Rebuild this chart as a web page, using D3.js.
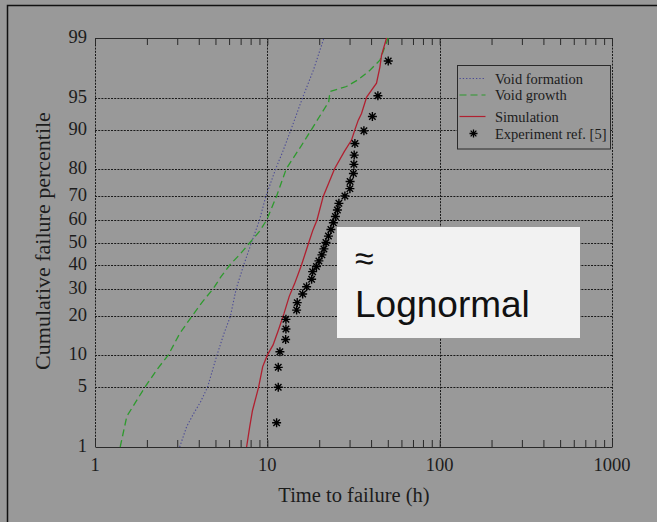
<!DOCTYPE html>
<html>
<head>
<meta charset="utf-8">
<script src="https://cdn.jsdelivr.net/npm/d3@7"></script>
<style>
  body { margin: 0; background: #999999; }
  svg text { font-family: "Liberation Serif", "Times New Roman", serif; fill: #1c1c1c; }
  svg text.note { font-family: "Liberation Sans", Arial, sans-serif; fill: #111; }
</style>
</head>
<body>
<div id="chart"></div>
<script>
// values: [time (h), cumulative percentile]
const xTicks = [1, 10, 100, 1000];
const yTicks = [1, 5, 10, 20, 30, 40, 50, 60, 70, 80, 90, 95, 99];

const voidFormation = [
  [3.1, 1], [3.4, 1.8], [3.7, 2.5], [4.1, 3.5], [4.5, 5], [5.1, 10], [5.6, 15], [6.1, 20],
  [6.6, 30], [7.3, 40], [8.1, 50], [9.0, 60], [9.8, 70], [11.2, 80],
  [12.3, 85], [13.7, 90], [16.0, 95], [18.5, 97.5], [21.3, 99]
];
const voidGrowth = [
  [1.40, 1], [1.53, 2.4], [1.95, 5], [2.3, 7.5], [2.66, 10], [3.1, 15],
  [3.64, 20], [4.2, 25], [4.86, 30], [5.4, 35], [6.07, 40], [7.0, 45],
  [7.93, 50], [9.0, 55], [9.9, 60], [11.3, 70], [12.9, 80], [15.5, 86],
  [18.0, 90], [20.6, 92.9], [22.7, 94.5], [23.1, 95.7], [28.8, 96.2],
  [33.7, 96.8], [39.4, 97.5], [45.0, 98.1], [50.3, 99]
];
const simulation = [
  [7.58, 1], [7.9, 1.8], [8.2, 2.8], [8.9, 5], [9.4, 7.9], [10.0, 10],
  [10.8, 12.2], [11.6, 16], [12.5, 21], [13.4, 27], [14.4, 32], [15.4, 37.7],
  [15.8, 40], [17.4, 50], [18.4, 55.7], [19.4, 60], [21.1, 70], [24.6, 80],
  [28.0, 85], [30.8, 87.8], [32.2, 90], [33.7, 91.8], [35.2, 92.9],
  [37.7, 95.1], [43.0, 96.5], [45.0, 97.7], [46.0, 98.35], [49.2, 99]
];
const experiment = [
  [11.32, 2.02], [11.57, 4.98], [11.57, 7.78], [11.83, 10.7], [12.77, 13.5],
  [12.82, 16.25], [12.82, 19.1], [14.79, 22.1], [14.91, 24.7], [16.03, 27.9],
  [16.9, 30.75], [18.07, 33.8], [18.32, 37.0], [19.27, 39.2], [19.92, 41.7],
  [20.74, 44.4], [21.3, 47.1], [21.88, 50.0], [22.62, 52.9], [23.38, 55.9],
  [24.17, 58.9], [24.83, 61.6], [25.5, 64.4], [26.02, 67.2], [28.19, 70.2],
  [30.14, 73.0], [30.22, 75.6], [31.58, 78.4], [31.79, 81.3], [31.92, 84.0],
  [32.22, 87.0], [36.34, 89.8], [40.7, 92.4], [43.8, 95.25], [50.3, 98.05]
];
const legendLabels = ["Void formation", "Void growth", "Simulation", "Experiment ref. [5]"];

// inverse normal cdf (Acklam) for the probability axis
function probit(p) {
  const a = [-3.969683028665376e+01, 2.209460984245205e+02, -2.759285104469687e+02, 1.383577518672690e+02, -3.066479806614716e+01, 2.506628277459239e+00];
  const b = [-5.447609879822406e+01, 1.615858368580409e+02, -1.556989798598866e+02, 6.680131188771972e+01, -1.328068155288572e+01];
  const c = [-7.784894002430293e-03, -3.223964580411365e-01, -2.400758277161838e+00, -2.549732539343734e+00, 4.374664141464968e+00, 2.938163982698783e+00];
  const d = [7.784695709041462e-03, 3.224671290700398e-01, 2.445134137142996e+00, 3.754408661907416e+00];
  const pl = 0.02425;
  let q, r;
  if (p < pl) {
    q = Math.sqrt(-2 * Math.log(p));
    return (((((c[0]*q+c[1])*q+c[2])*q+c[3])*q+c[4])*q+c[5]) / ((((d[0]*q+d[1])*q+d[2])*q+d[3])*q+1);
  }
  if (p > 1 - pl) {
    q = Math.sqrt(-2 * Math.log(1 - p));
    return -(((((c[0]*q+c[1])*q+c[2])*q+c[3])*q+c[4])*q+c[5]) / ((((d[0]*q+d[1])*q+d[2])*q+d[3])*q+1);
  }
  q = p - 0.5; r = q * q;
  return (((((a[0]*r+a[1])*r+a[2])*r+a[3])*r+a[4])*r+a[5])*q / (((((b[0]*r+b[1])*r+b[2])*r+b[3])*r+b[4])*r+1);
}

const width = 657, height = 522;
const plotLeft = 95, plotRight = 612, plotTop = 38, plotBottom = 447;

const svg = d3.select("#chart").append("svg")
  .attr("width", width)
  .attr("height", height);

svg.append("rect").attr("width", width).attr("height", height).attr("fill", "#999999");
// outer frame of the scanned figure
svg.append("rect")
  .attr("x", 7.5).attr("y", 5.5).attr("width", 700).attr("height", 600)
  .attr("fill", "none").attr("stroke", "#111").attr("stroke-width", 1.5);

const xscale = d3.scaleLog().domain([1, 1000]).range([plotLeft, plotRight]);
const zscale = d3.scaleLinear().domain([probit(0.01), probit(0.99)]).range([plotBottom, plotTop]);
const yscale = (p) => zscale(probit(p / 100));

// grid
svg.append("g").selectAll("line")
  .data(yTicks.filter((d) => d > 1 && d < 99))
  .join("line")
  .attr("x1", plotLeft).attr("x2", plotRight)
  .attr("y1", (d) => Math.round(yscale(d)) + 0.5)
  .attr("y2", (d) => Math.round(yscale(d)) + 0.5)
  .attr("stroke", "#1a1a1a").attr("stroke-width", 1)
  .attr("stroke-dasharray", "2,1.2");

svg.append("g").selectAll("line")
  .data(xTicks)
  .join("line")
  .attr("x1", (d) => Math.round(xscale(d)) + 0.5)
  .attr("x2", (d) => Math.round(xscale(d)) + 0.5)
  .attr("y1", plotTop).attr("y2", plotBottom)
  .attr("stroke", "#1a1a1a").attr("stroke-width", 1)
  .attr("stroke-dasharray", "2,1.2");

// top / bottom axis lines with inward minor ticks
const x_bottom = d3.axisBottom(xscale).tickValues(xscale.ticks()).tickSize(-7).tickSizeOuter(0).tickFormat("");
const x_top = d3.axisTop(xscale).tickValues(xscale.ticks()).tickSize(-7).tickSizeOuter(0).tickFormat("");

svg.append("g").attr("transform", `translate(0,${plotBottom})`).call(x_bottom)
  .call((g) => g.selectAll("path,line").attr("stroke", "#2a2a2a"));
svg.append("g").attr("transform", `translate(0,${plotTop})`).call(x_top)
  .call((g) => g.selectAll("path,line").attr("stroke", "#2a2a2a"));

// tick labels
svg.append("g").selectAll("text")
  .data(xTicks)
  .join("text")
  .attr("x", (d) => xscale(d))
  .attr("y", 471)
  .attr("text-anchor", "middle")
  .attr("font-size", 18.5)
  .text((d) => d);

svg.append("g").selectAll("text")
  .data(yTicks)
  .join("text")
  .attr("x", 87)
  .attr("y", (d) => yscale(d) + 5)
  .attr("text-anchor", "end")
  .attr("font-size", 18.5)
  .text((d) => d);

// axis titles
svg.append("text")
  .attr("x", 354).attr("y", 502)
  .attr("text-anchor", "middle")
  .attr("font-size", 20.5)
  .text("Time to failure (h)");

svg.append("text")
  .attr("transform", "translate(50,241) rotate(-90)")
  .attr("text-anchor", "middle")
  .attr("font-size", 22)
  .text("Cumulative failure percentile");

// curves
const line = d3.line().x((d) => xscale(d[0])).y((d) => yscale(d[1]));

svg.append("path").attr("d", line(voidFormation))
  .attr("fill", "none").attr("stroke", "#4a4a96").attr("stroke-width", 1.1)
  .attr("stroke-dasharray", "1.3,2");
svg.append("path").attr("d", line(voidGrowth))
  .attr("fill", "none").attr("stroke", "#2e9a2e").attr("stroke-width", 1.3)
  .attr("stroke-dasharray", "7,4");
svg.append("path").attr("d", line(simulation))
  .attr("fill", "none").attr("stroke", "#b02030").attr("stroke-width", 1.3);

const star = (r) => {
  const a = r * 0.72;
  return `M0,${-r}V${r}M${-r},0H${r}M${-a},${-a}L${a},${a}M${-a},${a}L${a},${-a}`;
};

svg.append("g").selectAll("path")
  .data(experiment)
  .join("path")
  .attr("transform", (d) => `translate(${xscale(d[0])},${yscale(d[1])})`)
  .attr("d", star(4.5))
  .attr("fill", "none").attr("stroke", "#000").attr("stroke-width", 1.4);

// legend
const legend = svg.append("g").attr("transform", "translate(457.5,65.5)");
legend.append("rect")
  .attr("width", 153).attr("height", 83.5)
  .attr("fill", "#999999").attr("stroke", "#2a2a2a").attr("stroke-width", 1);

const rowY = [13, 29.5, 51, 68];
const styles = [
  { stroke: "#4a4a96", dash: "1.3,2" },
  { stroke: "#2e9a2e", dash: "7,4" },
  { stroke: "#b02030", dash: null }
];
styles.forEach((s, i) => {
  legend.append("line")
    .attr("x1", 2).attr("x2", 28)
    .attr("y1", rowY[i]).attr("y2", rowY[i])
    .attr("stroke", s.stroke).attr("stroke-width", 1.2)
    .attr("stroke-dasharray", s.dash);
});
legend.append("path")
  .attr("transform", `translate(16,${rowY[3]})`)
  .attr("d", star(4))
  .attr("fill", "none").attr("stroke", "#000").attr("stroke-width", 1.3);

legend.selectAll("text.lab")
  .data(legendLabels)
  .join("text")
  .attr("class", "lab")
  .attr("x", 37.5)
  .attr("y", (d, i) => rowY[i] + 5)
  .attr("font-size", 14.5)
  .text((d) => d);

// annotation box
const note = svg.append("g");
note.append("rect")
  .attr("x", 337).attr("y", 227).attr("width", 243).attr("height", 111)
  .attr("fill", "#f2f2f2");
note.append("text")
  .attr("class", "note")
  .attr("x", 355).attr("y", 270)
  .attr("font-size", 34)
  .text("≈");
note.append("text")
  .attr("class", "note")
  .attr("x", 355).attr("y", 317)
  .attr("font-size", 37)
  .text("Lognormal");
</script>
</body>
</html>
